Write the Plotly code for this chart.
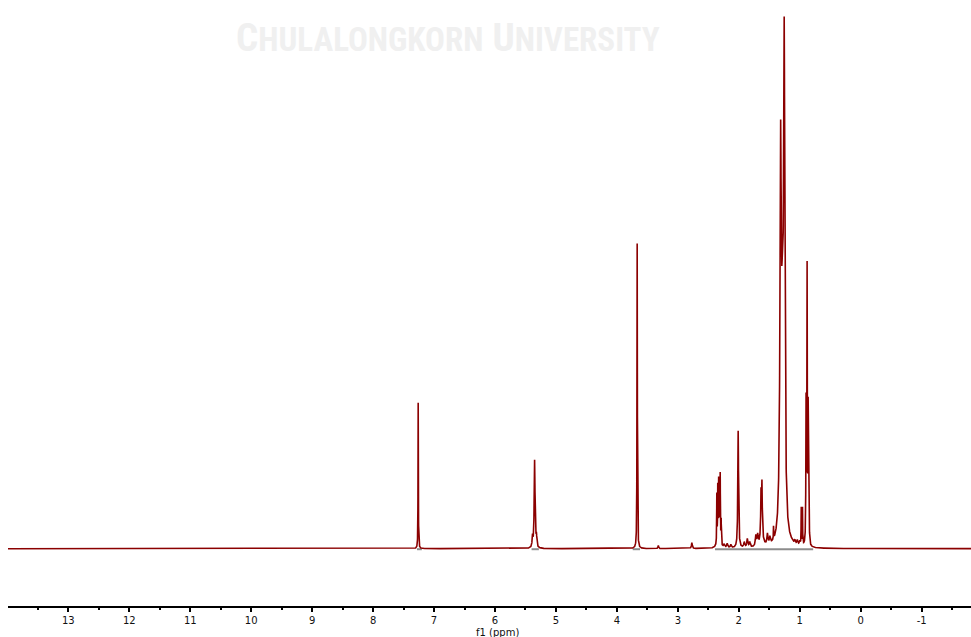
import numpy as np
import plotly.graph_objects as go

# 1H NMR peak table: chemical shift (ppm), amplitude (relative, tallest = 100), half width (ppm)
peak_ppm = [7.260, 5.385, 5.350, 5.320, 3.667, 3.320, 2.770,
            2.360, 2.345, 2.330, 2.315, 2.305, 2.290, 2.330,
            2.240, 2.190, 2.130, 2.010,
            1.910, 1.860, 1.820, 1.720, 1.690,
            1.635, 1.620, 1.625, 1.530, 1.490, 1.430,
            1.314, 1.285, 1.255,
            1.170, 1.130, 1.080, 1.040, 1.000,
            0.975, 0.955, 0.896, 0.879, 0.862, 0.845]
peak_amp = [27.4, 2.0, 16.5, 2.0, 57.3, 0.6, 1.1,
            9.0, 9.5, 9.5, 9.0, 12.0, 5.0, 3.0,
            0.6, 0.8, 0.6, 22.0,
            1.0, 1.6, 1.0, 2.0, 2.0,
            8.0, 9.5, 2.0, 2.0, 1.3, 2.4,
            66.3, 32.0, 87.2,
            0.2, 0.3, 0.7, 0.9, 0.8,
            7.0, 7.0, 26.0, 51.0, 25.0, 4.5]
peak_hwhm = [0.003, 0.007, 0.008, 0.007, 0.0035, 0.006, 0.008,
             0.003, 0.003, 0.003, 0.003, 0.003, 0.003, 0.02,
             0.01, 0.01, 0.01, 0.007,
             0.01, 0.01, 0.01, 0.01, 0.01,
             0.006, 0.006, 0.03, 0.01, 0.01, 0.003,
             0.0124, 0.02, 0.0124,
             0.01, 0.01, 0.01, 0.01, 0.01,
             0.003, 0.003, 0.004, 0.004, 0.004, 0.004]

# integration regions drawn along the baseline (ppm start, ppm end)
integral_start = [7.28, 5.40, 3.74, 2.39]
integral_end = [7.20, 5.28, 3.62, 0.78]

tick_values = [13, 12, 11, 10, 9, 8, 7, 6, 5, 4, 3, 2, 1, 0, -1]
tick_labels = ["13", "12", "11", "10", "9", "8", "7", "6", "5", "4", "3", "2", "1", "0", "-1"]

# spectrum built as a sum of Lorentzian lines on a fine chemical-shift grid
ppm = np.arange(14.0, -1.85, -0.001)
intensity = np.zeros_like(ppm)
for c, a, w in zip(peak_ppm, peak_amp, peak_hwhm):
    intensity += a / (1.0 + ((ppm - c) / w) ** 2)

fig = go.Figure()
for s, e in zip(integral_start, integral_end):
    fig.add_trace(go.Scatter(x=[s, e], y=[-0.1, -0.1], mode="lines",
                             line=dict(color="#8c8c8c", width=2),
                             hoverinfo="skip", showlegend=False))
fig.add_trace(go.Scatter(x=ppm, y=intensity, mode="lines",
                         line=dict(color="#8b0000", width=1.6),
                         showlegend=False))

fig.update_layout(
    width=971, height=637,
    margin=dict(l=8, r=0, t=0, b=31),
    paper_bgcolor="white", plot_bgcolor="white",
    showlegend=False,
    xaxis=dict(
        range=[13.99, -1.81],
        tickmode="array", tickvals=tick_values, ticktext=tick_labels,
        ticks="outside", ticklen=4, tickwidth=2, tickcolor="black",
        minor=dict(tickmode="linear", tick0=0, dtick=0.5, ticks="outside",
                   ticklen=2, tickwidth=2, tickcolor="black", showgrid=False),
        showline=True, linecolor="black", linewidth=2,
        showgrid=False, zeroline=False,
        tickfont=dict(family="DejaVu Sans, Verdana, sans-serif", size=10, color="#111111"),
    ),
    yaxis=dict(range=[-10.76, 103.0], visible=False, showgrid=False, zeroline=False),
    annotations=[
        dict(text="f1 (ppm)", xref="paper", yref="paper", x=0.508, y=-0.043,
             xanchor="center", yanchor="middle", showarrow=False,
             font=dict(family="DejaVu Sans, Verdana, sans-serif", size=10, color="#111111")),
        dict(text="C<span style='font-size:33px'>HULALONGKORN</span> U<span style='font-size:33px'>NIVERSITY</span>",
             xref="paper", yref="paper", x=0.4564, y=0.937,
             xanchor="center", yanchor="middle", showarrow=False,
             font=dict(family="Liberation Sans Narrow, Roboto Condensed, Arial Narrow, Liberation Sans",
                       size=39, color="#f0f0f0", weight="bold")),
    ],
)

fig.write_html("out.html")
